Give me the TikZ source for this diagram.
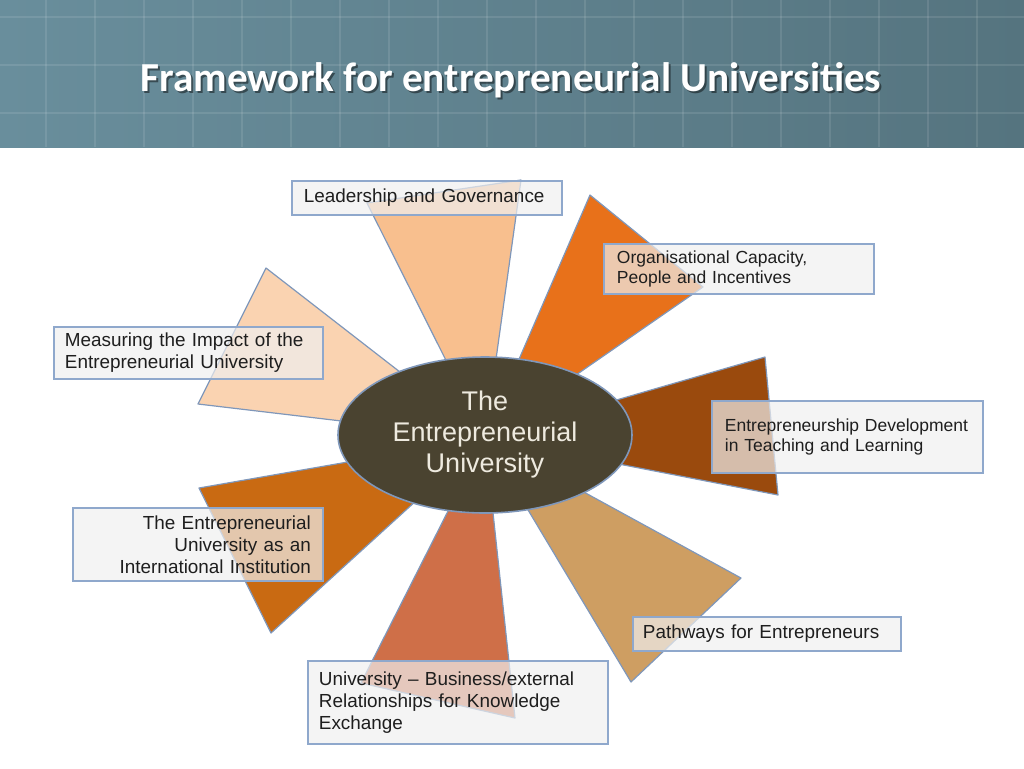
\documentclass[tikz,border=0pt]{standalone}
\usepackage{fontspec}
\setmainfont{Liberation Sans}
\newfontfamily\titlefont{Carlito}
\usepackage{tikz}
\usetikzlibrary{shapes.geometric}
\usepackage{xcolor}
\definecolor{slatel}{HTML}{698E9C}
\definecolor{slater}{HTML}{55747F}
\definecolor{leadcol}{HTML}{F8BF8E}
\definecolor{orgcol}{HTML}{E8711A}
\definecolor{devcol}{HTML}{9A4A0D}
\definecolor{pathcol}{HTML}{CE9E62}
\definecolor{ubecol}{HTML}{CF6F48}
\definecolor{intlcol}{HTML}{C96A12}
\definecolor{meascol}{HTML}{FAD3B1}
\definecolor{hubfill}{HTML}{4A4330}
\definecolor{hubtext}{HTML}{EEEADF}
\definecolor{rimblue}{HTML}{7F97BA}
\definecolor{boxrim}{HTML}{8FA8CC}
\definecolor{boxgray}{HTML}{EFEFEF}
\definecolor{inkgray}{HTML}{1E1E1E}
\hyphenpenalty=10000

\begin{document}
\begin{tikzpicture}[x=0.5pt,y=-0.5pt,
  wedge/.style={draw=rimblue,line width=0.6pt,line join=round},
  tag/.style={draw=boxrim,line width=0.9pt,fill=boxgray,fill opacity=0.7,text opacity=1,text=inkgray,anchor=north west,inner ysep=0pt,align=left,font=\fontsize{9.45}{11}\selectfont},
  small/.style={font=\fontsize{8.75}{10}\selectfont},
  heading/.style={font=\titlefont\bfseries\fontsize{20.6}{24}\selectfont,anchor=base}]
\useasboundingbox (0,0) rectangle (1024,768);
\shade[left color=slatel,right color=slater] (0,0) rectangle (1024,147);
\foreach \x in {46,95,...,1024} \draw[white,opacity=0.1,line width=0.6pt] (\x,0) -- (\x,147);
\foreach \y in {17,65,113} \draw[white,opacity=0.1,line width=0.6pt] (0,\y) -- (1024,\y);
\node[heading,text=black,opacity=0.45] (titleshadow) at (513,93) {Framework for entrepreneurial Universities};
\node[heading,text=white] (title) at (511,91) {Framework for entrepreneurial Universities};

\coordinate (hub) at (485,438);
\filldraw[wedge,fill=leadcol] (hub) -- (367,203) -- (521,180) -- cycle;
\filldraw[wedge,fill=orgcol] (hub) -- (590,195) -- (703,287) -- cycle;
\filldraw[wedge,fill=devcol] (hub) -- (765,357) -- (778,495) -- cycle;
\filldraw[wedge,fill=pathcol] (hub) -- (741,578) -- (631,682) -- cycle;
\filldraw[wedge,fill=ubecol] (hub) -- (515,718) -- (361,683) -- cycle;
\filldraw[wedge,fill=intlcol] (hub) -- (271,633) -- (199,488) -- cycle;
\filldraw[wedge,fill=meascol] (hub) -- (198,404) -- (266,268) -- cycle;

\node[ellipse,draw=rimblue,line width=0.8pt,fill=hubfill,minimum width=147pt,minimum height=78pt,
  text=hubtext,align=center,font=\fontsize{13.5}{15.5}\selectfont] (uni) at (485,435) {The\\Entrepreneurial\\University};

\node[tag,inner xsep=6pt,minimum width=135pt,minimum height=17pt,text width=123pt] (lead) at (291,180) {Leadership and Governance};
\node[tag,small,inner xsep=6.5pt,minimum width=135pt,minimum height=25pt,text width=122pt] (org) at (603,243) {Organisational Capacity,\\People and Incentives};
\node[tag,inner xsep=5.5pt,minimum width=134.5pt,minimum height=26pt,text width=123.5pt] (meas) at (53,326) {Measuring the Impact of the\\Entrepreneurial University};
\node[tag,small,inner xsep=6.5pt,minimum width=135.5pt,minimum height=36pt,text width=122.5pt] (dev) at (711,400) {Entrepreneurship Development\\in Teaching and Learning};
\node[tag,align=right,inner xsep=6pt,minimum width=125pt,minimum height=36.5pt,text width=113pt] (intl) at (72,507) {The Entrepreneurial\\University as an\\International Institution};
\node[tag,inner xsep=5pt,minimum width=134pt,minimum height=17pt,text width=124pt] (path) at (632,616) {Pathways for Entrepreneurs};
\node[tag,inner xsep=5.5pt,minimum width=150pt,minimum height=41.5pt,text width=139pt] (ube) at (307,660) {University -- Business/external\\Relationships for Knowledge\\Exchange};
\end{tikzpicture}
\end{document}
